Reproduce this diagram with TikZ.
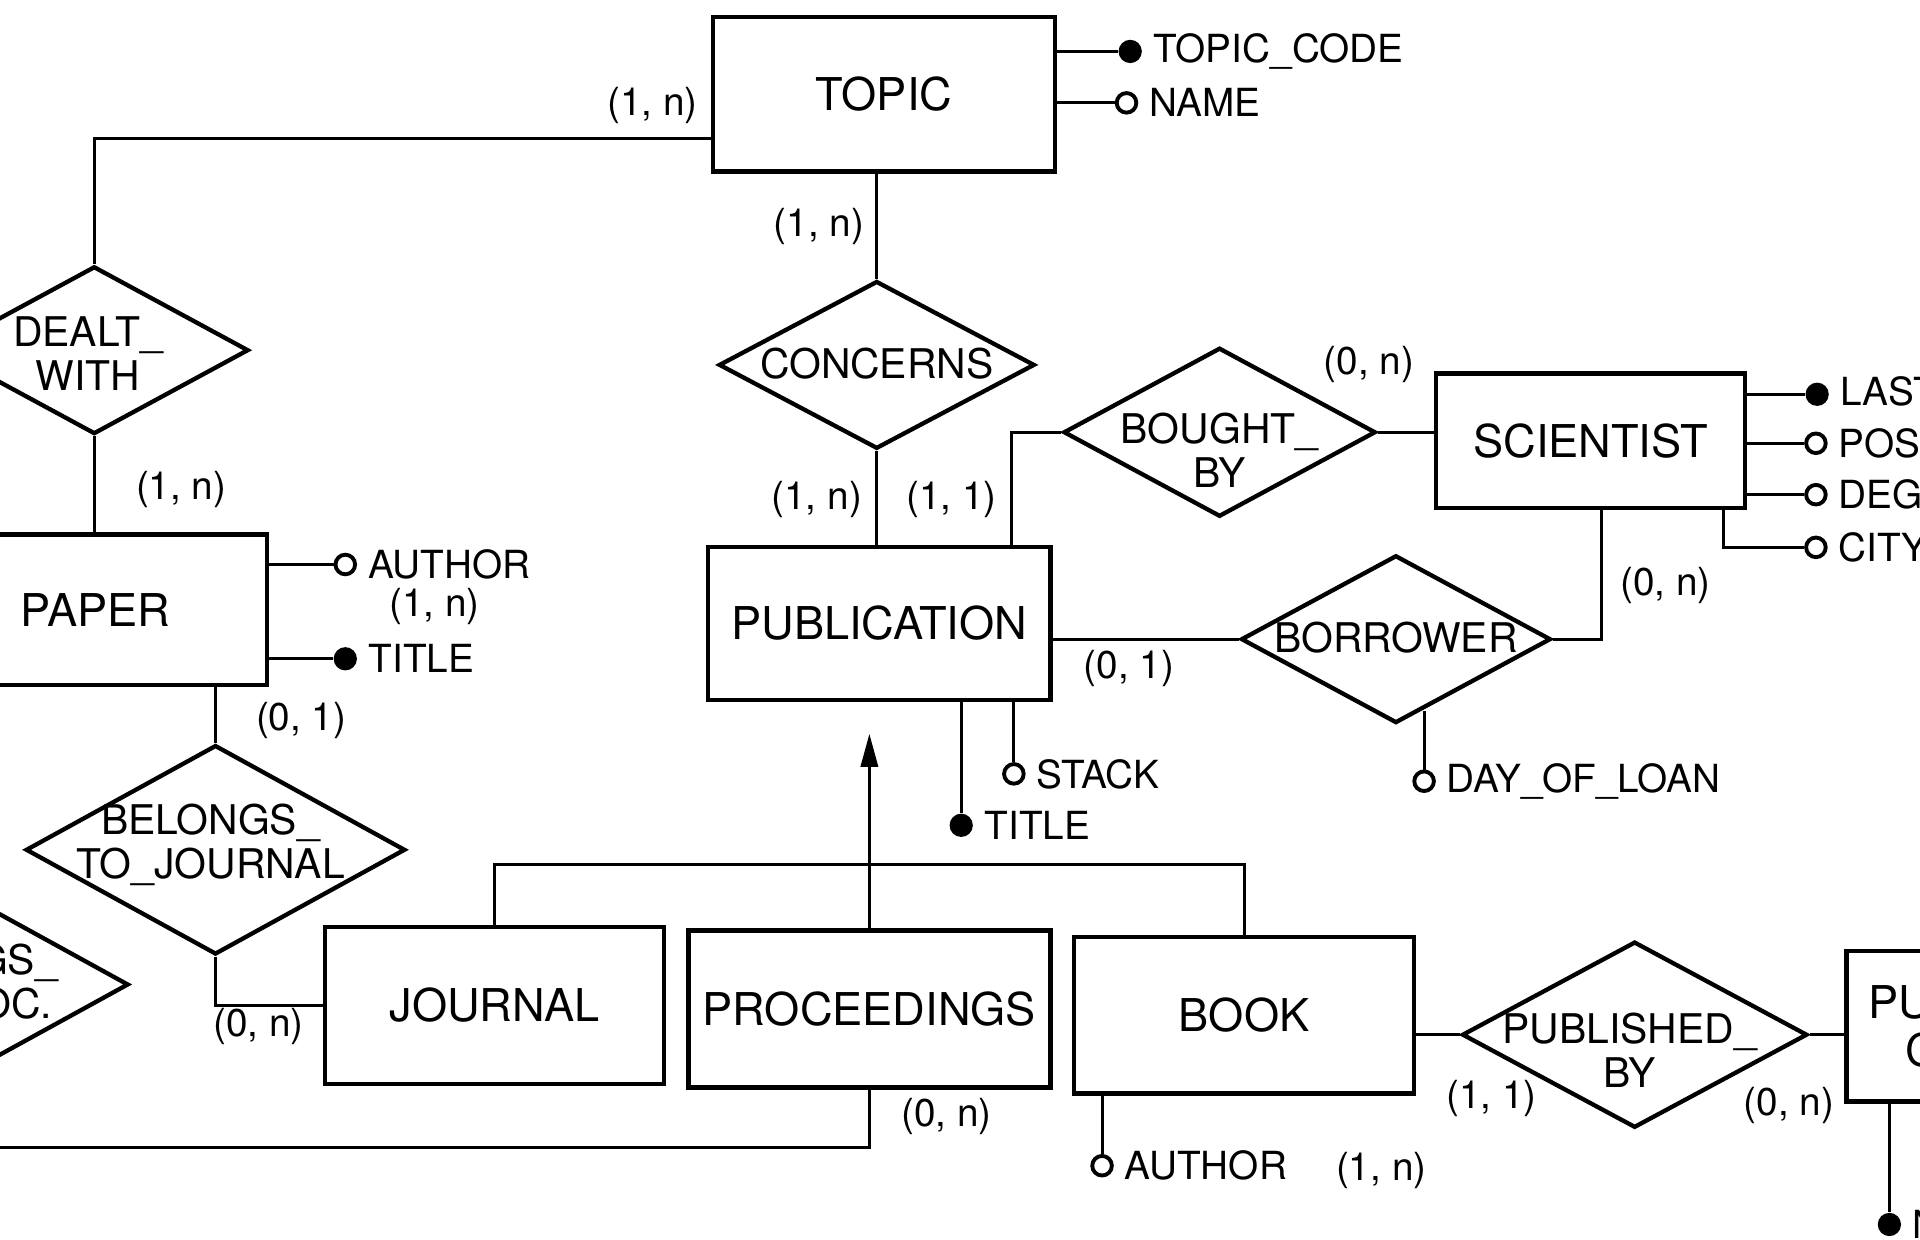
\documentclass[tikz,border=0pt]{standalone}
\usepackage{fontspec}
\setmainfont{TeX Gyre Heros}
\usetikzlibrary{shapes.geometric,positioning,arrows.meta}

\begin{document}
\begin{tikzpicture}[
  x=0.1mm, y=-0.1mm,
  every node/.style={font=\fontsize{9pt}{10.5pt}\selectfont},
  entity/.style={draw, line width=1pt, fill=white, minimum width=27.9mm, minimum height=12.6mm, align=center, font=\fontsize{10.5pt}{11pt}\selectfont},
  relation/.style={draw, diamond, line width=1pt, fill=white, inner sep=0pt, minimum width=25.6mm, minimum height=13.7mm},
  reltext/.style={align=center, inner sep=0pt, font=\fontsize{9.5pt}{10.2pt}\selectfont},
  card/.style={inner sep=1pt},
  keyattr/.style={circle, fill=black, inner sep=0pt, minimum size=1.9mm},
  attr/.style={circle, draw, line width=0.9pt, fill=white, inner sep=0pt, minimum size=1.6mm},
  attrtext/.style={anchor=west, inner sep=1.5pt, xshift=0.3mm},
  link/.style={line width=0.7pt},
  >={Triangle[length=2.7mm,width=1.4mm]}
]
\useasboundingbox (0,0) rectangle (1568,1012);
\clip (0,0) rectangle (1568,1012);
\fill[white] (0,0) rectangle (1568,1012);

% Entities
\node[entity] (topic) at (722,77) {TOPIC};
\node[entity, minimum width=28mm, minimum height=12.3mm] (paper) at (78,498) {PAPER};
\node[entity, minimum width=28mm, minimum height=12.5mm] (publication) at (718,509) {PUBLICATION};
\node[entity, minimum width=25.2mm, minimum height=11mm] (scientist) at (1299,360) {SCIENTIST};
\node[entity, minimum width=27.7mm, minimum height=12.8mm] (journal) at (404,821) {JOURNAL};
\node[entity, minimum width=29.4mm, minimum height=12.8mm] (proceedings) at (710,824) {PROCEEDINGS};
\node[entity, minimum width=27.8mm, minimum height=12.8mm] (book) at (1016,829) {BOOK};
\node[entity, minimum width=28mm, minimum height=12.3mm] (publisher) at (1648,838) {PUBLISHING\_\\COMPANY};

% Relationships
\node[relation, minimum width=25.2mm] (dealtwith) at (77,286) {};
\node[relation, minimum width=25.8mm] (concerns) at (716,298) {};
\node[relation, minimum width=25.5mm, minimum height=13.8mm] (boughtby) at (996,353) {};
\node[relation, minimum width=25.3mm] (borrower) at (1140,522) {};
\node[relation, minimum width=31mm, minimum height=17.1mm] (belongsj) at (176,694) {};
\node[relation, minimum width=31mm, minimum height=17.1mm] (belongsp) at (-50,804) {};
\node[relation, minimum width=28.2mm, minimum height=15.2mm] (publishedby) at (1335,845) {};

\node[reltext] (dealtwithT) at (72,289) {DEALT\_\\WITH};
\node[reltext] (concernsT) at (716,297) {CONCERNS};
\node[reltext] (boughtbyT) at (996,368) {BOUGHT\_\\BY};
\node[reltext] (borrowerT) at (1140,521) {BORROWER};
\node[reltext] (belongsjT) at (172,690) {BELONGS\_\\TO\_JOURNAL};
\node[reltext] (belongspT) at (-42,804) {BELONGS\_\\TO\_PROC.};
\node[reltext] (publishedbyT) at (1331,858) {PUBLISHED\_\\BY};

% Links
\draw[link] ([yshift=-3.6mm]topic.west) -| (dealtwith.north);
\draw[link] (concerns.north) -- (concerns.north |- topic.south);
\draw[link] (concerns.south) -- (concerns.south |- publication.north);
\draw[link] (dealtwith.south) -- (dealtwith.south |- paper.north);
\draw[link] ([xshift=10.8mm]publication.north) |- (boughtby.west);
\draw[link] (boughtby.east) -- (boughtby.east -| scientist.west);
\draw[link] (borrower.west) -- (borrower.west -| publication.east);
\draw[link] (borrower.east) -| ([xshift=0.9mm]scientist.south);
\draw[link] (belongsj.north) -- (belongsj.north |- paper.south);
\draw[link] (belongsj.south) |- (journal.west);
\draw[link] (proceedings.south) |- ([yshift=-4.6mm]belongsp.south) -- (belongsp.south);
\draw[link] (publishedby.west) -- (publishedby.west -| book.east);
\draw[link] (publishedby.east) -- (publishedby.east -| publisher.west);

% Generalization
\coordinate (isa) at (710,706);
\draw[link] (journal.north) |- (isa) -| (book.north);
\draw[link] (proceedings.north) -- (isa);
\draw[link, ->, shorten >=2.6mm] (isa) -- (isa |- publication.south);

% Attributes
\node[keyattr] (topiccode) at (923,42) {};
\node[attrtext] (topiccodeT) at (topiccode.east) {TOPIC\_CODE};
\draw[link] (topiccode) -- (topiccode -| topic.east);
\node[attr] (topicname) at (920,84) {};
\node[attrtext] (topicnameT) at (topicname.east) {NAME};
\draw[link] (topicname) -- (topicname -| topic.east);

\node[attr] (paperauthor) at (282,461) {};
\node[attrtext] (paperauthorT) at (paperauthor.east) {AUTHOR};
\draw[link] (paperauthor) -- (paperauthor -| paper.east);
\node[keyattr] (papertitle) at (282,538) {};
\node[attrtext] (papertitleT) at (papertitle.east) {TITLE};
\draw[link] (papertitle) -- (papertitle -| paper.east);

\node[attr] (pubstack) at (828,632) {};
\node[attrtext] (pubstackT) at (pubstack.east) {STACK};
\draw[link] (pubstack) -- (pubstack |- publication.south);
\node[keyattr] (pubtitle) at (785,674) {};
\node[attrtext] (pubtitleT) at (pubtitle.east) {TITLE};
\draw[link] (pubtitle) -- (pubtitle |- publication.south);

\node[attr] (dayofloan) at (1163,638) {};
\node[attrtext] (dayofloanT) at (dayofloan.east) {DAY\_OF\_LOAN};
\draw[link] (dayofloan) -- (dayofloan |- borrower.-70);

\node[keyattr] (scilast) at (1484,322) {};
\node[attrtext] (scilastT) at (scilast.east) {LAST\_NAME};
\draw[link] (scilast) -- (scilast -| scientist.east);
\node[attr] (scipos) at (1483,362) {};
\node[attrtext] (sciposT) at (scipos.east) {POSITION};
\draw[link] (scipos) -- (scipos -| scientist.east);
\node[attr] (scideg) at (1483,404) {};
\node[attrtext] (scidegT) at (scideg.east) {DEGREE};
\draw[link] (scideg) -- (scideg -| scientist.east);
\node[attr] (scicity) at (1483,447) {};
\node[attrtext] (scicityT) at (scicity.east) {CITY};
\draw[link] (scicity) -| ([xshift=-1.9mm]scientist.south east);

\node[attr] (bookauthor) at (900,952) {};
\node[attrtext] (bookauthorT) at (bookauthor.east) {AUTHOR};
\draw[link] (bookauthor) -- (bookauthor |- book.south);

\node[keyattr] (publname) at (1543,1000) {};
\node[attrtext] (publnameT) at (publname.east) {NAME};
\draw[link] (publname) -- (publname |- publisher.south);

% Cardinalities
\node[card] (cTopicDealt) at (533,86) {(1, n)};
\node[card] (cTopicConc) at (669,185) {(1, n)};
\node[card] (cPubConc) at (667,408) {(1, n)};
\node[card] (cPubBought) at (777,408) {(1, 1)};
\node[card] (cSciBought) at (1118,298) {(0, n)};
\node[card] (cPaperDealt) at (148,400) {(1, n)};
\node[card] (cPaperAuthor) at (355,495) {(1, n)};
\node[card] (cPaperBelongs) at (246,588) {(0, 1)};
\node[card] (cPubBorrow) at (922,546) {(0, 1)};
\node[card] (cSciBorrow) at (1360,478) {(0, n)};
\node[card] (cJournal) at (211,838) {(0, n)};
\node[card] (cProc) at (773,912) {(0, n)};
\node[card] (cBookAuthor) at (1128,956) {(1, n)};
\node[card] (cBookPubl) at (1218,897) {(1, 1)};
\node[card] (cPublisher) at (1461,903) {(0, n)};
\end{tikzpicture}
\end{document}
